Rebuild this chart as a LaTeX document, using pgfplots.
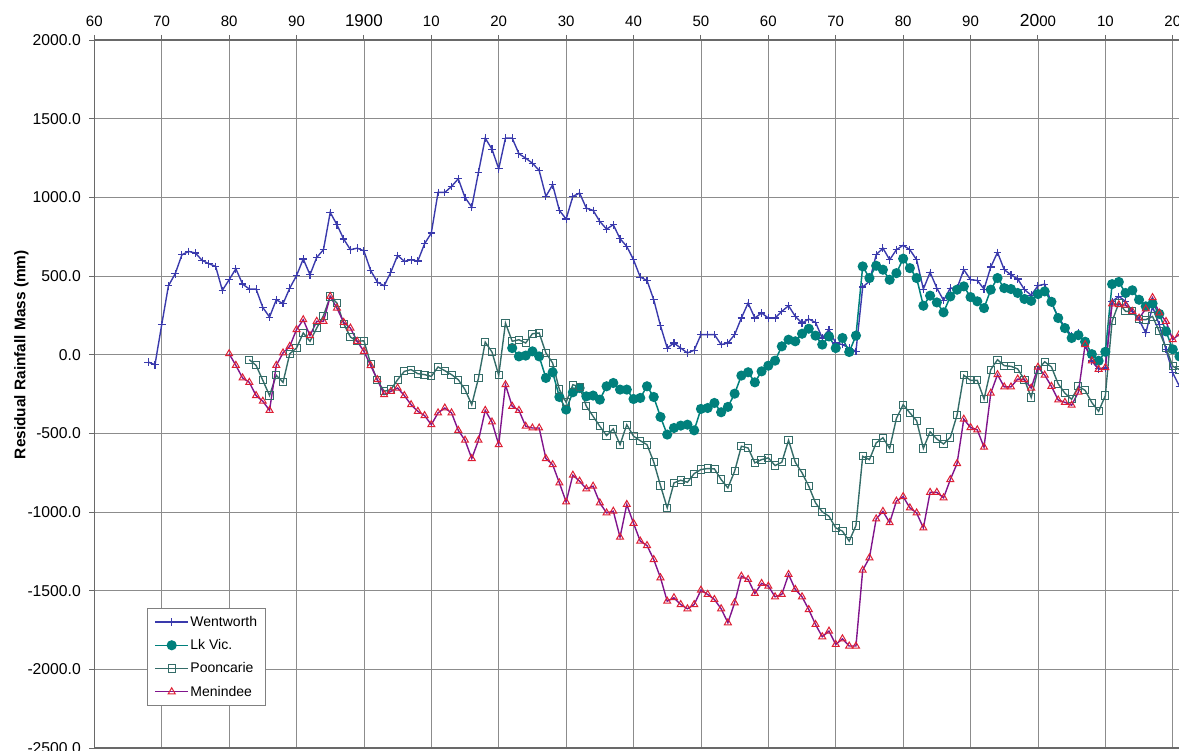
\documentclass[border=0pt]{standalone}
\usepackage{fontspec}
\setmainfont{Liberation Sans}
\usepackage{pgfplots}
\usepackage{pgfplotstable}
\pgfplotsset{compat=1.18}

\definecolor{wentc}{RGB}{58,58,172}
\definecolor{lkvic}{RGB}{0,128,124}
\definecolor{poonc}{RGB}{52,108,104}
\definecolor{menline}{RGB}{128,20,140}
\definecolor{menmark}{RGB}{222,32,52}
\definecolor{gridc}{RGB}{140,140,140}
\definecolor{spine}{RGB}{105,105,105}

% Residual rainfall mass, annual values (mm)
\pgfplotstableread{
year val
1868 -47
1869 -64
1870 190
1871 438
1872 514
1873 635
1874 656
1875 646
1876 599
1877 578
1878 561
1879 409
1880 476
1881 546
1882 449
1883 417
1884 417
1885 300
1886 239
1887 349
1888 324
1889 423
1890 502
1891 608
1892 508
1893 618
1894 667
1895 904
1896 826
1897 735
1898 667
1899 677
1900 660
1901 535
1902 461
1903 438
1904 525
1905 631
1906 593
1907 603
1908 595
1909 705
1910 773
1911 1031
1912 1031
1913 1069
1914 1118
1915 999
1916 938
1917 1160
1918 1376
1919 1306
1920 1181
1921 1376
1922 1376
1923 1277
1924 1249
1925 1217
1926 1171
1927 1006
1928 1080
1929 917
1930 862
1931 1006
1932 1027
1933 931
1934 917
1935 847
1936 798
1937 826
1938 737
1939 688
1940 603
1941 493
1942 472
1943 349
1944 184
1945 42
1946 74
1947 42
1948 11
1949 28
1950 127
1951 127
1952 127
1953 64
1954 74
1955 127
1956 233
1957 328
1958 233
1959 265
1960 233
1961 233
1962 275
1963 311
1964 243
1965 201
1966 226
1967 205
1968 106
1969 159
1970 74
1971 64
1972 42
1973 21
1974 430
1975 466
1976 635
1977 677
1978 603
1979 667
1980 695
1981 667
1982 603
1983 417
1984 523
1985 423
1986 345
1987 423
1988 423
1989 540
1990 476
1991 472
1992 417
1993 557
1994 650
1995 540
1996 508
1997 481
1998 413
1999 378
2000 438
2001 448
2002 330
2003 240
2004 175
2005 120
2006 142
2007 60
2008 -40
2009 -90
2010 -85
2011 339
2012 370
2013 339
2014 275
2015 222
2016 138
2017 305
2018 191
2019 32
2020 -116
2021 -201
}\wentworth

\pgfplotstableread{
year val
1922 42
1923 -11
1924 -6
1925 21
1926 -11
1927 -148
1928 -112
1929 -269
1930 -349
1931 -239
1932 -212
1933 -265
1934 -260
1935 -286
1936 -201
1937 -180
1938 -222
1939 -222
1940 -282
1941 -275
1942 -201
1943 -269
1944 -396
1945 -508
1946 -466
1947 -451
1948 -445
1949 -481
1950 -345
1951 -339
1952 -307
1953 -366
1954 -332
1955 -248
1956 -133
1957 -112
1958 -176
1959 -106
1960 -70
1961 -38
1962 53
1963 95
1964 85
1965 133
1966 165
1967 121
1968 64
1969 116
1970 42
1971 106
1972 17
1973 121
1974 561
1975 487
1976 565
1977 540
1978 476
1979 518
1980 610
1981 550
1982 487
1983 311
1984 375
1985 332
1986 269
1987 370
1988 413
1989 434
1990 366
1991 339
1992 296
1993 413
1994 487
1995 423
1996 417
1997 392
1998 354
1999 342
2000 385
2001 402
2002 336
2003 233
2004 169
2005 106
2006 124
2007 82
2008 3
2009 -39
2010 18
2011 448
2012 462
2013 392
2014 409
2015 349
2016 307
2017 325
2018 259
2019 148
2020 34
2021 -11
}\lkvic

\pgfplotstableread{
year val
1883 -32
1884 -68
1885 -163
1886 -260
1887 -131
1888 -176
1889 6
1890 42
1891 138
1892 85
1893 169
1894 248
1895 370
1896 328
1897 197
1898 112
1899 85
1900 88
1901 -57
1902 -163
1903 -233
1904 -222
1905 -159
1906 -106
1907 -95
1908 -121
1909 -127
1910 -138
1911 -78
1912 -102
1913 -127
1914 -159
1915 -222
1916 -318
1917 -148
1918 80
1919 17
1920 -131
1921 201
1922 85
1923 95
1924 74
1925 133
1926 138
1927 11
1928 -53
1929 -222
1930 -303
1931 -191
1932 -205
1933 -328
1934 -392
1935 -455
1936 -514
1937 -472
1938 -572
1939 -445
1940 -518
1941 -547
1942 -572
1943 -682
1944 -832
1945 -974
1946 -815
1947 -798
1948 -811
1949 -756
1950 -730
1951 -724
1952 -726
1953 -794
1954 -847
1955 -741
1956 -582
1957 -593
1958 -688
1959 -667
1960 -656
1961 -705
1962 -684
1963 -544
1964 -684
1965 -751
1966 -836
1967 -942
1968 -999
1969 -1027
1970 -1101
1971 -1122
1972 -1185
1973 -1086
1974 -646
1975 -667
1976 -561
1977 -528
1978 -596
1979 -405
1980 -318
1981 -370
1982 -420
1983 -596
1984 -490
1985 -536
1986 -568
1987 -526
1988 -384
1989 -131
1990 -163
1991 -163
1992 -282
1993 -95
1994 -32
1995 -70
1996 -74
1997 -91
1998 -159
1999 -272
2000 -95
2001 -45
2002 -78
2003 -185
2004 -245
2005 -284
2006 -201
2007 -227
2008 -305
2009 -360
2010 -260
2011 212
2012 328
2013 275
2014 275
2015 226
2016 222
2017 243
2018 148
2019 42
2020 -74
2021 -95
}\pooncarie

\pgfplotstableread{
year val
1880 6
1881 -68
1882 -148
1883 -176
1884 -260
1885 -296
1886 -354
1887 -68
1888 11
1889 53
1890 159
1891 222
1892 121
1893 212
1894 212
1895 370
1896 296
1897 205
1898 169
1899 85
1900 21
1901 -69
1902 -159
1903 -254
1904 -233
1905 -212
1906 -260
1907 -318
1908 -360
1909 -387
1910 -445
1911 -370
1912 -339
1913 -370
1914 -481
1915 -544
1916 -660
1917 -544
1918 -354
1919 -428
1920 -572
1921 -191
1922 -328
1923 -354
1924 -455
1925 -466
1926 -466
1927 -660
1928 -699
1929 -815
1930 -936
1931 -766
1932 -804
1933 -853
1934 -836
1935 -942
1936 -1006
1937 -995
1938 -1160
1939 -952
1940 -1072
1941 -1185
1942 -1213
1943 -1302
1944 -1418
1945 -1567
1946 -1545
1947 -1588
1948 -1615
1949 -1588
1950 -1497
1951 -1524
1952 -1556
1953 -1615
1954 -1704
1955 -1577
1956 -1408
1957 -1429
1958 -1518
1959 -1454
1960 -1471
1961 -1539
1962 -1524
1963 -1397
1964 -1492
1965 -1539
1966 -1620
1967 -1715
1968 -1793
1969 -1757
1970 -1842
1971 -1806
1972 -1852
1973 -1852
1974 -1370
1975 -1291
1976 -1044
1977 -996
1978 -1068
1979 -931
1980 -902
1981 -974
1982 -1006
1983 -1101
1984 -875
1985 -875
1986 -910
1987 -794
1988 -692
1989 -410
1990 -463
1991 -478
1992 -588
1993 -245
1994 -127
1995 -205
1996 -205
1997 -155
1998 -159
1999 -212
2000 -80
2001 -130
2002 -201
2003 -288
2004 -303
2005 -321
2006 -238
2007 64
2008 -40
2009 -93
2010 -82
2011 323
2012 318
2013 315
2014 275
2015 232
2016 291
2017 363
2018 265
2019 211
2020 95
2021 132
}\menindee

\begin{document}
\begin{tikzpicture}
\useasboundingbox (0pt,0pt) rectangle (1179pt,751pt);
\begin{axis}[
  at={(94.3pt,3pt)}, anchor=south west,
  scale only axis,
  width=1087.9pt, height=708pt,
  xmin=1860, xmax=2021.4,
  ymin=-2500, ymax=2000,
  xtick={1860,1870,...,2020},
  xticklabels={60,70,80,90,{\fontsize{17}{17}\selectfont 1900},10,20,30,40,50,60,70,80,90,{{\fontsize{17.5}{17}\selectfont 20}00},10,20},
  ytick={-2500,-2000,...,2000},
  yticklabels={-2500.0,-2000.0,-1500.0,-1000.0,-500.0,0.0,500.0,1000.0,1500.0,2000.0},
  xtick pos=upper, xticklabel pos=upper,
  ytick pos=left,
  tick align=outside,
  major tick length=5pt,
  tick style={spine, line width=0.9pt},
  xticklabel style={font=\fontsize{15}{17}\selectfont, text=black, yshift=5pt},
  yticklabel style={font=\fontsize{15.7}{17}\selectfont, text=black, xshift=-5pt},
  grid=major,
  major grid style={gridc, line width=0.8pt},
  axis line style={spine, line width=1.2pt},
  ylabel={\textbf{Residual Rainfall Mass (mm)}},
  ylabel style={at={(axis description cs:-0.067,0.5556)}, anchor=center, font=\fontsize{15.4}{17}\selectfont},
  legend cell align=left,
  legend style={at={(rel axis cs:0.0485,0.198)}, anchor=north west,
    draw=gray, line width=0.8pt, fill=white,
    font=\fontsize{14}{16}\selectfont,
    row sep=8.6pt, inner xsep=7pt, inner ysep=6.5pt,
    nodes={inner sep=1.5pt}},
  legend image code/.code={%
    \draw[mark repeat=2,mark phase=2] plot coordinates {(0pt,0pt) (16.5pt,0pt) (33pt,0pt)};},
]
\addplot[wentc, line width=1.4pt, mark=+, mark size=3.8pt, mark options={line width=1.1pt}]
  table[x=year,y=val] {\wentworth};
\addlegendentry{Wentworth}
\addplot[lkvic, line width=1.5pt, mark=*, mark size=4.3pt, mark options={fill=lkvic, draw=lkvic}]
  table[x=year,y=val] {\lkvic};
\addlegendentry{Lk Vic.}
\addplot[poonc, line width=1.4pt, mark=square, mark size=3.6pt, mark options={line width=1pt}]
  table[x=year,y=val] {\pooncarie};
\addlegendentry{Pooncarie}
\addplot[menline, line width=1.4pt, mark=triangle, mark size=4pt, mark options={draw=menmark, line width=1pt}]
  table[x=year,y=val] {\menindee};
\addlegendentry{Menindee}
\end{axis}
\end{tikzpicture}
\end{document}
